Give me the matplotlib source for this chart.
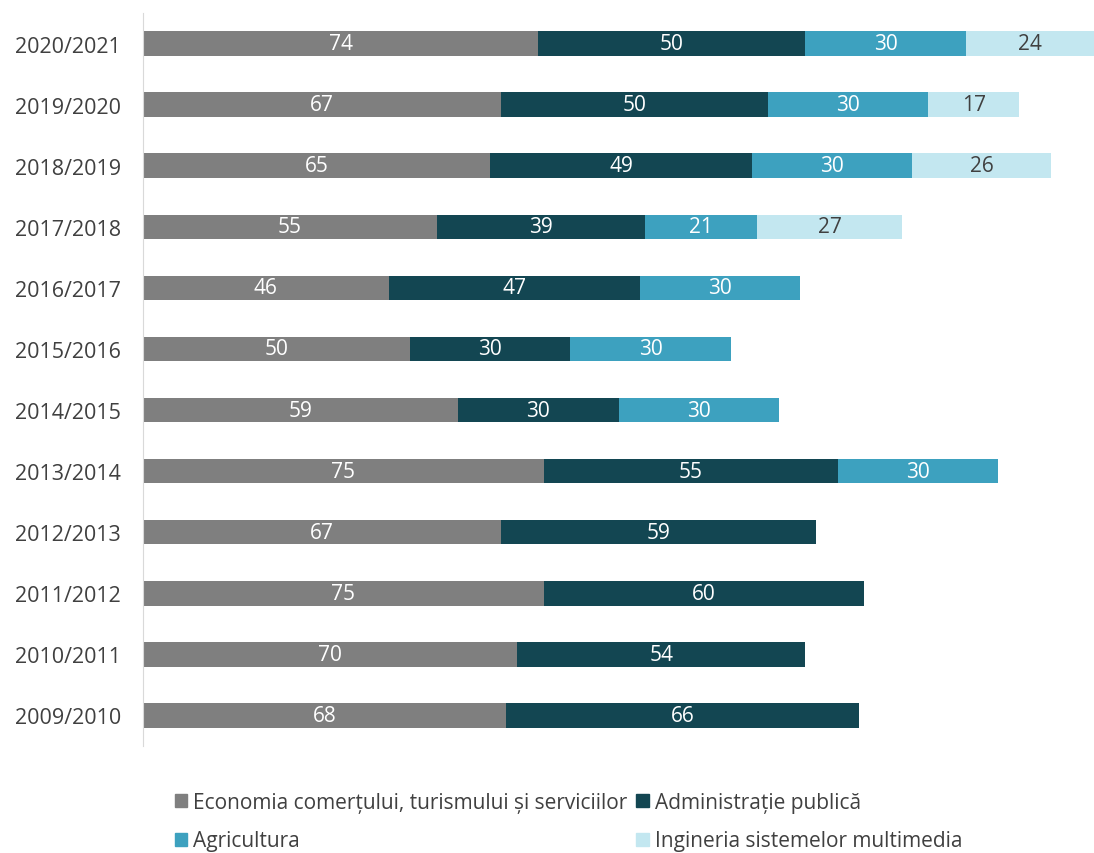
import numpy as np
import matplotlib.pyplot as plt
from matplotlib.patches import Patch

years = ['2020/2021', '2019/2020', '2018/2019', '2017/2018', '2016/2017',
         '2015/2016', '2014/2015', '2013/2014', '2012/2013', '2011/2012',
         '2010/2011', '2009/2010']
economia = [74, 67, 65, 55, 46, 50, 59, 75, 67, 75, 70, 68]
administratie = [50, 50, 49, 39, 47, 30, 30, 55, 59, 60, 54, 66]
agricultura = [30, 30, 30, 21, 30, 30, 30, 30, 0, 0, 0, 0]
inginerie = [24, 17, 26, 27, 0, 0, 0, 0, 0, 0, 0, 0]

names = ['Economia comerțului, turismului și serviciilor', 'Administrație publică',
         'Agricultura', 'Ingineria sistemelor multimedia']
colors = ['#7F7F7F', '#134652', '#3DA1BF', '#C3E7F0']
label_colors = ['white', 'white', 'white', '#404040']

plt.rcParams['font.family'] = ['Open Sans', 'DejaVu Sans']


def main():
    fig = plt.figure(figsize=(10.94, 8.54), dpi=100)
    ax = fig.add_axes([143 / 1094, 1 - 747 / 854, (1094 - 143) / 1094, 733 / 854])

    series = [economia, administratie, agricultura, inginerie]
    y = np.arange(len(years))
    left = np.zeros(len(years))
    for vals, col, lc in zip(series, colors, label_colors):
        vals = np.array(vals, dtype=float)
        bars = ax.barh(y, vals, left=left, height=0.4, color=col)
        for b, v in zip(bars, vals):
            if v > 0:
                ax.text(b.get_x() + b.get_width() / 2, b.get_y() + b.get_height() / 2,
                        '%d' % v, ha='center', va='center', color=lc, fontsize=15)
        left += vals

    ax.set_yticks(y)
    ax.set_yticklabels(years, fontsize=15.5, color='#404040')
    ax.set_ylim(len(years) - 0.5, -0.5)
    ax.set_xlim(0, 178)
    ax.set_xticks([])
    ax.tick_params(axis='y', length=0, pad=16)
    for s in ['top', 'right', 'bottom']:
        ax.spines[s].set_visible(False)
    ax.spines['left'].set_color('#D9D9D9')

    # column-first fill: Economia/Agricultura, Administratie/Ingineria
    order = [0, 2, 1, 3]
    handles = [Patch(color=colors[i]) for i in order]
    labels = [names[i] for i in order]
    fig.legend(handles, labels, loc='upper left', bbox_to_anchor=(156 / 1094, 1 - 774 / 854),
               ncol=2, frameon=False, fontsize=15, labelcolor='#404040',
               handlelength=0.6, handleheight=0.6, handletextpad=0.3,
               columnspacing=0.4, labelspacing=0.85)

    fig.savefig('out.png', dpi=100)


if __name__ == '__main__':
    main()
